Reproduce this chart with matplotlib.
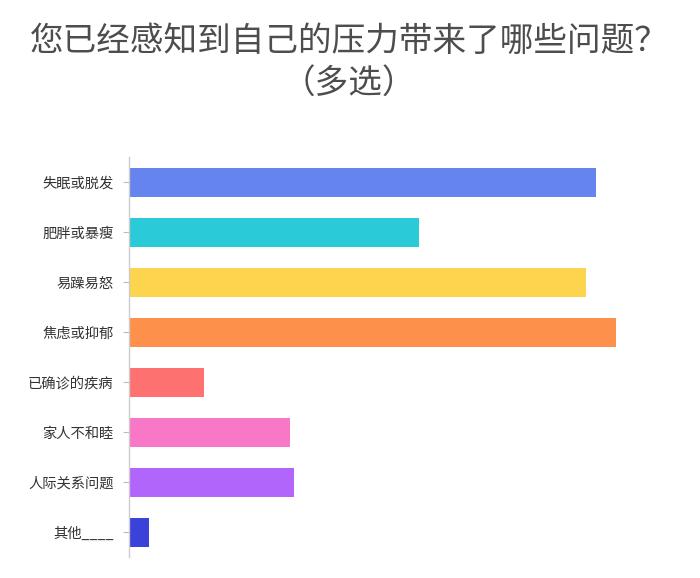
import matplotlib
matplotlib.use('Agg')
import matplotlib.pyplot as plt

# 数据（多选题，各选项占比 %）
categories = ['失眠或脱发', '肥胖或暴瘦', '易躁易怒', '焦虑或抑郁',
              '已确诊的疾病', '家人不和睦', '人际关系问题', '其他____']
values = [46.7, 29.0, 45.7, 48.7, 7.5, 16.1, 16.5, 2.0]
colors = ['#6684EE', '#2BCAD8', '#FDD44D', '#FD914C',
          '#FD7171', '#F977C7', '#B165FB', '#3B42DA']

plt.rcParams['font.family'] = ['Noto Sans CJK SC', 'DejaVu Sans']

W, H = 700, 578
fig = plt.figure(figsize=(W / 100, H / 100), dpi=100)

# 坐标轴位置（像素换算）
left, right, top, bottom = 128.7, 628.7, 157, 557
ax = fig.add_axes([left / W, 1 - bottom / H, (right - left) / W, (bottom - top) / H])

y = list(range(len(categories)))
ax.barh(y, values, height=0.58, color=colors, left=0)
ax.set_ylim(len(categories) - 0.5, -0.5)
ax.set_xlim(0, 50)

ax.set_yticks(y)
ax.set_yticklabels(categories, fontsize=10.3, color='#333333')
ax.tick_params(axis='y', length=4, width=0.8, color='#bbbbbb', pad=7)
ax.set_xticks([])

for s in ['top', 'right', 'bottom']:
    ax.spines[s].set_visible(False)
ax.spines['left'].set_color('#cccccc')
ax.spines['left'].set_linewidth(1)

# 标题
fig.text(0.499, 1 - 41 / H, '您已经感知到自己的压力带来了哪些问题？',
         ha='center', va='center', fontsize=24.2, color='#4d4d4d')
fig.text(0.499, 1 - 83 / H, '（多选）',
         ha='center', va='center', fontsize=24.2, color='#4d4d4d')

fig.savefig('out.png', dpi=100, facecolor='white')
